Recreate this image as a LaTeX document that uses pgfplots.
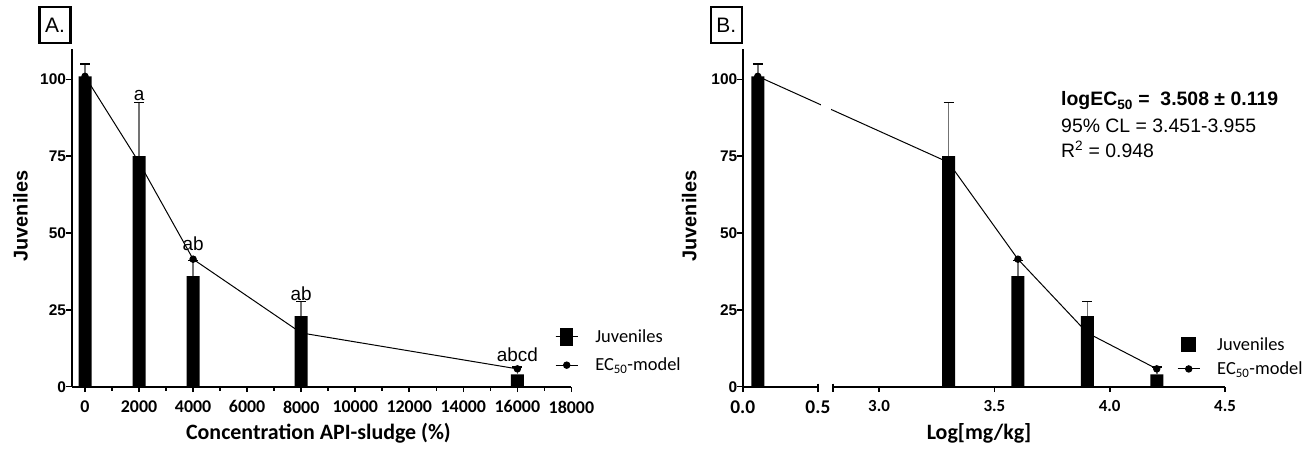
\documentclass[border=0pt]{standalone}
\usepackage{pgfplots}
\pgfplotsset{compat=1.18}
\usepackage{fontspec}
\setmainfont{Liberation Sans}
\newfontfamily\calfont{Carlito}

\pgfplotstableread{
x      y    e
0      101  4
2000   75   17.5
4000   36   5
8000   23   4.7
16000  4    2.4
}\dataA
\pgfplotstableread{
x      y
0      101
2000   73
4000   41.5
8000   17.5
16000  5.8
}\modelA
\pgfplotstableread{
x      y    e
0.1    101  4
3.301  75   17.5
3.602  36   5
3.903  23   4.7
4.204  4    2.4
}\dataB
\pgfplotstableread{
x      y
0.1    101
3.301  73
3.602  41.5
3.903  17.5
4.204  5.8
}\modelB

\pgfplotsset{
  common/.style={
    scale only axis, height=338bp,
    ymin=0, ymax=110,
    axis lines=left,
    axis line style={-, line width=2bp, black},
    tick align=outside,
    major tick length=5.5bp, minor tick length=4bp,
    tick style={line width=1.6bp, black},
    scaled x ticks=false, scaled y ticks=false,
    ytick={0,25,50,75,100}, yticklabels={0,25,50,75,100},
    yticklabel style={font=\bfseries\fontsize{15.5}{18}\selectfont, xshift=3.5bp},
    ylabel={Juveniles},
    ylabel style={font=\bfseries\fontsize{20}{24}\selectfont, anchor=center},
    xlabel style={font=\calfont\bfseries\fontsize{22}{26}\selectfont, anchor=center},
    clip=false,
  },
  barstyle/.style={ybar, bar width=13bp, fill=black, draw=none,
    error bars/.cd, y dir=plus, y explicit,
    error bar style={line width=1.5bp, black!55},
    error mark options={rotate=90, mark size=5bp, line width=1.5bp, black}},
  modelstyle/.style={black, line width=1bp, mark=*, mark size=3.2bp, mark options={fill=black, solid}},
}

\begin{document}
\begin{tikzpicture}[x=1bp,y=1bp]
\useasboundingbox (0,0) rectangle (1307,450);

% Panel A
\begin{axis}[common,
  at={(71.5bp,63.3bp)}, anchor=south west, width=499.9bp,
  xmin=-500, xmax=18000,
  xtick={0,2000,4000,6000,8000,10000,12000,14000,16000,18000},
  xticklabels={0,2000,4000,6000,8000,10000,12000,14000,16000,18000},
  minor xtick={1000,3000,5000,7000,9000,11000,13000,15000,17000},
  xticklabel style={font=\calfont\bfseries\fontsize{18}{20}\selectfont, yshift=-5bp},
  xlabel={Concentration API-sludge (\%)},
  xlabel style={at={(axis description cs:0.494,-0.137)}},
  ylabel style={at={(axis description cs:-0.102,0.505)}},
  legend style={at={(axis description cs:0.967,0.175)}, anchor=north west,
    draw=none, fill=none, font=\calfont\fontsize{18.5}{21}\selectfont,
    row sep=10bp, column sep=15bp, inner sep=0pt},
  legend cell align=left,
]
\addplot[legend image code/.code={
    \draw[line width=1.2bp] (0bp,0bp) -- (22bp,0bp);
    \fill (4.5bp,-9bp) rectangle (17.5bp,9bp);}, barstyle] table[x=x, y=y, y error=e] {\dataA};
\addlegendentry{Juveniles}
\addplot[modelstyle, legend image code/.code={
    \draw[line width=1bp] (0bp,0bp) -- (22bp,0bp);
    \fill (11bp,0bp) circle (3.2bp);}] table[x=x, y=y] {\modelA};
\addlegendentry{EC\textsubscript{50}-model}
\node[anchor=south, inner sep=2bp, font=\fontsize{19}{22}\selectfont] at (axis cs:2000,92.5) {a};
\node[anchor=south, inner sep=1bp, font=\fontsize{19}{22}\selectfont] at (axis cs:4000,43.8) {ab};
\node[anchor=south, inner sep=1bp, font=\fontsize{19}{22}\selectfont] at (axis cs:8000,27.7) {ab};
\node[anchor=south, inner sep=1bp, font=\fontsize{19}{22}\selectfont] at (axis cs:16000,7.6) {abcd};
\end{axis}

% Panel B
\begin{axis}[common,
  at={(742.7bp,63.3bp)}, anchor=south west, width=482.3bp,
  x coord trafo/.code={\pgfmathparse{ifthenelse(#1<1,#1*0.65217,#1-2.4087)}},
  xmin=0, xmax=4.5,
  xtick={0,0.5,3.0,3.5,4.0,4.5},
  xticklabels={{\fontsize{19.5}{22}\selectfont 0.0},{\fontsize{19.5}{22}\selectfont 0.5},3.0,3.5,4.0,4.5},
  xticklabel style={font=\calfont\bfseries\fontsize{17}{20}\selectfont, anchor=north, yshift=-5bp},
  x axis line style={draw=none},
  xlabel={Log[mg/kg]},
  xlabel style={at={(axis description cs:0.49,-0.137)}},
  ylabel style={at={(axis description cs:-0.111,0.505)}},
  legend style={at={(axis description cs:0.9005,0.152)}, anchor=north west,
    draw=none, fill=none, font=\calfont\fontsize{18.5}{21}\selectfont,
    row sep=6bp, column sep=15bp, inner sep=0pt},
  legend cell align=left,
]
\addplot[legend image code/.code={
    \fill (3bp,-7.5bp) rectangle (18bp,7.5bp);}, barstyle] table[x=x, y=y, y error=e] {\dataB};
\addlegendentry{Juveniles}
\addplot[modelstyle, legend image code/.code={
    \draw[line width=1bp] (0bp,0bp) -- (22bp,0bp);
    \fill (11bp,0bp) circle (3.2bp);}] table[x=x, y=y] {\modelB};
\addlegendentry{EC\textsubscript{50}-model}
\fill[white] (axis cs:0.52,0.8) rectangle (axis cs:2.79,112);
\draw[line width=2bp] (axis cs:0,0) -- (axis cs:0.5,0);
\draw[line width=2bp] (axis cs:2.8,0) -- (axis cs:4.5,0);
\draw[line width=1.6bp] ([yshift=3bp]axis cs:0.5,0) -- ([yshift=-5.5bp]axis cs:0.5,0);
\draw[line width=1.6bp] ([yshift=3bp]axis cs:2.8,0) -- ([yshift=-5.5bp]axis cs:2.8,0);
\end{axis}

% annotations
\node[draw, line width=2.3bp, minimum width=31bp, minimum height=36bp, inner sep=0pt,
  font=\fontsize{21}{24}\selectfont] at (55,425) {A.};
\node[draw, line width=2.3bp, minimum width=31bp, minimum height=36bp, inner sep=0pt,
  font=\fontsize{21}{24}\selectfont] at (726.2,425) {B.};
\node[anchor=base west, inner sep=0pt, font=\bfseries\fontsize{19.5}{22}\selectfont] at (1061,344) {logEC\textsubscript{50} =\ \ 3.508 ± 0.119};
\node[anchor=base west, inner sep=0pt, font=\fontsize{19.5}{22}\selectfont] at (1061,317) {95\% CL = 3.451-3.955};
\node[anchor=base west, inner sep=0pt, font=\fontsize{19.5}{22}\selectfont] at (1061,292) {R\textsuperscript{2} = 0.948};
\end{tikzpicture}
\end{document}
